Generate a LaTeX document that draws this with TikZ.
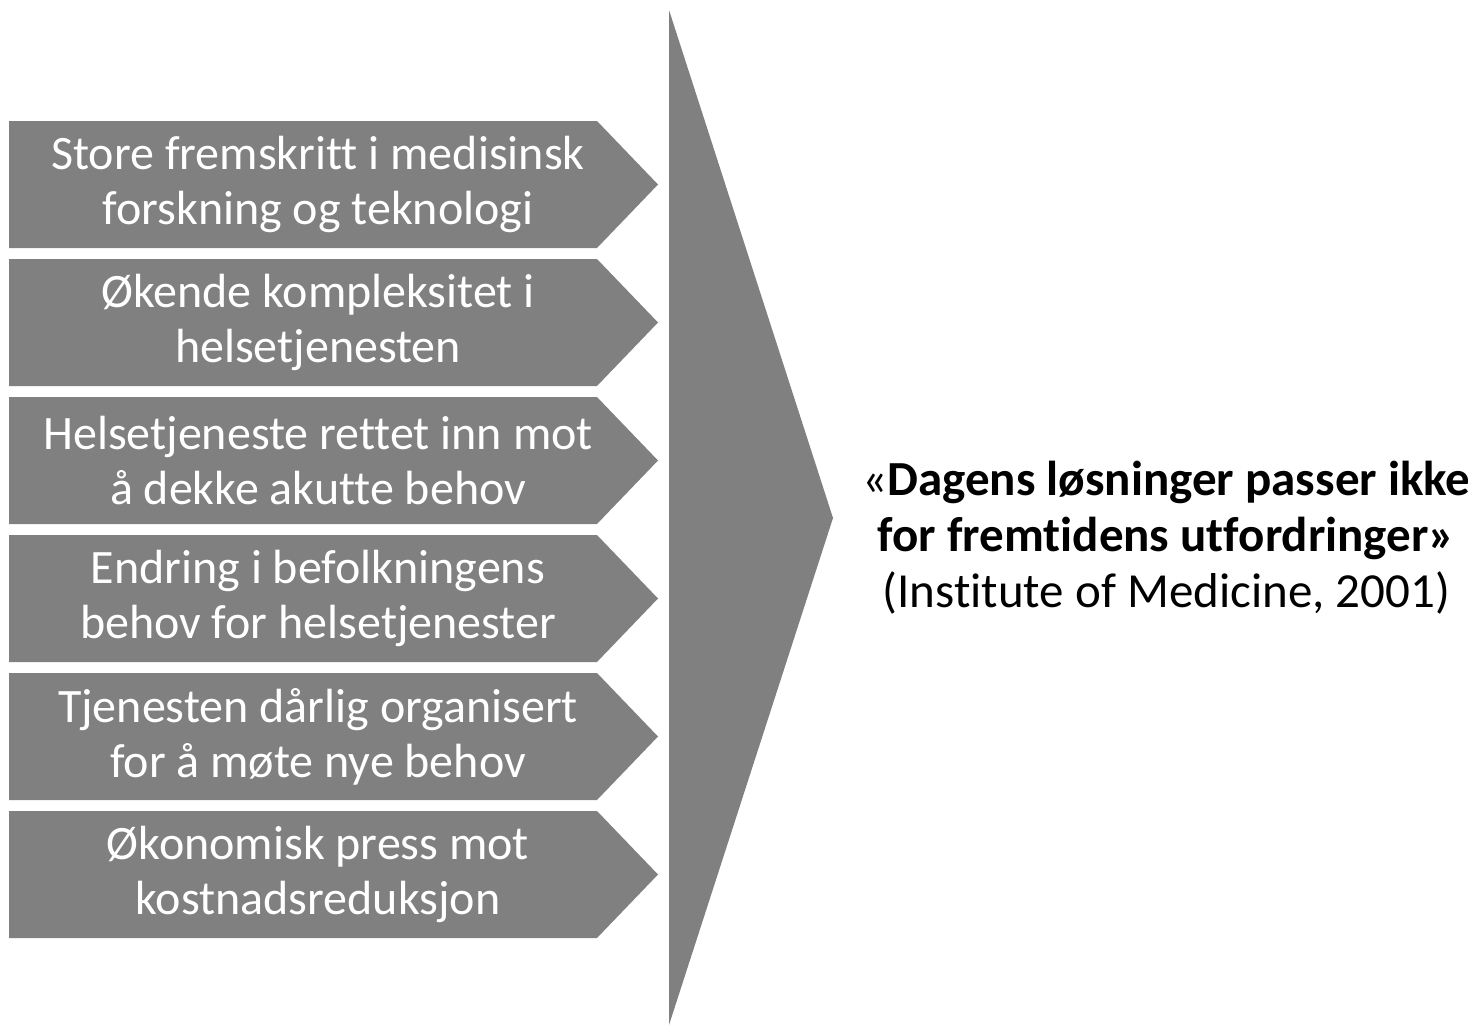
\documentclass[tikz,border=0pt]{standalone}
\usepackage{fontspec}
\setmainfont[Ligatures=CommonOff]{Carlito}
\usetikzlibrary{positioning}

\def\alist{{184.5/a/{Store fremskritt i medisinsk\\forskning og teknologi}}, {322.5/b/{Økende kompleksitet i\\helsetjenesten}}, {460.5/c/{Helsetjeneste rettet inn mot\\å dekke akutte behov}}, {598.5/d/{Endring i befolkningens\\behov for helsetjenester}}, {736.5/e/{Tjenesten dårlig organisert\\for å møte nye behov}}, {874.5/f/{Økonomisk press mot\\kostnadsreduksjon}}}
\tikzstyle{chevron} = [fill=black!50, draw=none]
\tikzstyle{label-text} = [text=white, align=center, font=\fontsize{48}{55}\selectfont, inner sep=0pt]
\tikzstyle{quote-text} = [text=black, align=center, font=\fontsize{49}{56}\selectfont, inner sep=0pt]

\begin{document}
\begin{tikzpicture}[x=1pt, y=-1pt]
  \useasboundingbox (0,0) rectangle (1468,1025);
  \foreach \ypos/\name/\txt in \alist {
    \fill[chevron] (9,\ypos-63.5) -- (597,\ypos-63.5) -- (658,\ypos) -- (597,\ypos+63.5) -- (9,\ypos+63.5) -- cycle;
    \node[label-text] (\name) at (318,\ypos) {\txt};
  }

  \fill[chevron] (669,10) -- (833,518) -- (669,1025) -- cycle;
  \coordinate (tip) at (833,518);

  \node[quote-text, right=29pt of tip, yshift=-20pt] (quote) {«\textbf{Dagens løsninger passer ikke}\\\textbf{for fremtidens utfordringer»}\\(Institute of Medicine, 2001)};
\end{tikzpicture}
\end{document}
